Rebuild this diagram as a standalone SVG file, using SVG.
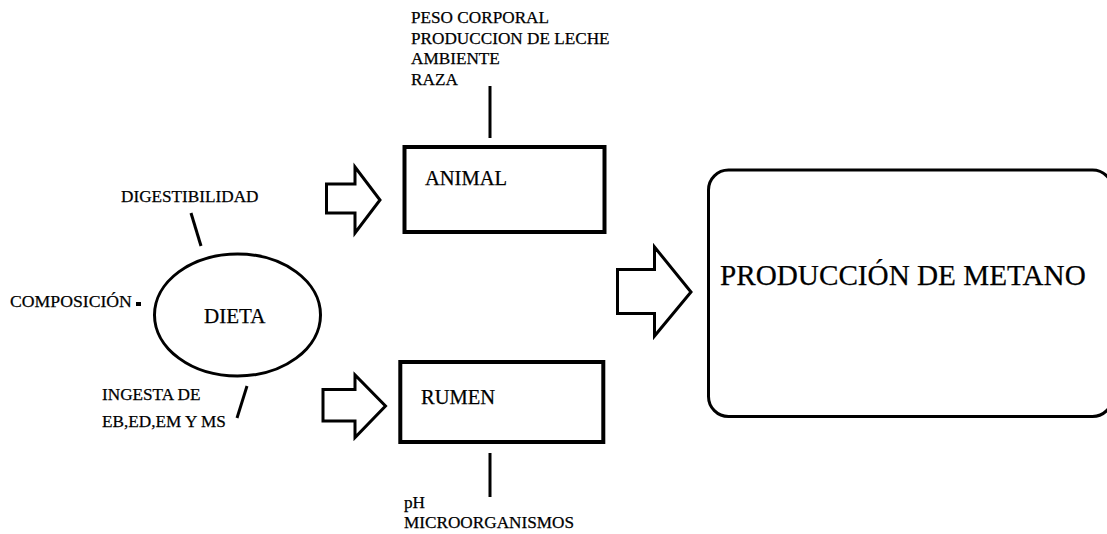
<svg xmlns="http://www.w3.org/2000/svg" width="1107" height="534" viewBox="0 0 1107 534">
<style>
text{font-family:"Liberation Serif","Times New Roman","DejaVu Serif",serif;fill:#000;stroke:#000;stroke-width:0.25}
.s{font-size:17.2px}
.m{font-size:20.5px}
.b{fill:#fff;stroke:#000;stroke-width:4}
.a{fill:#fff;stroke:#000;stroke-width:3;stroke-linejoin:miter}
.l{stroke:#000;stroke-width:3;fill:none}
</style>
<rect width="1107" height="534" fill="#fff"/>
<g id="connectors">
<line class="l" x1="490" y1="86" x2="490" y2="138"/>
<line class="l" x1="490" y1="453" x2="490" y2="497"/>
<line class="l" x1="191" y1="213" x2="201" y2="246"/>
<line class="l" x1="247" y1="386" x2="237" y2="418"/>
<rect x="136" y="302" width="5" height="4" fill="#000"/>
<polygon class="a" points="326.5,184 355,184 355,167 380,200 355,233 355,213 326.5,213"/>
<polygon class="a" points="323,389.5 355,389.5 355,375 385.5,406 355,437.5 355,421 323,421"/>
<polygon class="a" points="617.5,269.5 654.5,269.5 654.5,247 691,292 654.5,336 654.5,313.5 617.5,313.5"/>
</g>
<g id="animal-factors">
<text class="s" x="411" y="22.5">PESO CORPORAL</text>
<text class="s" x="411" y="43.5">PRODUCCION DE LECHE</text>
<text class="s" x="411" y="64">AMBIENTE</text>
<text class="s" x="411" y="85">RAZA</text>
</g>
<g id="animal">
<rect class="b" x="404.5" y="147" width="200" height="85"/>
<text class="m" x="425" y="184.5">ANIMAL</text>
</g>
<g id="rumen">
<rect class="b" x="400.3" y="362" width="203" height="80"/>
<text class="m" x="421" y="403.5">RUMEN</text>
</g>
<g id="rumen-factors">
<text class="s" x="404" y="508">pH</text>
<text class="s" x="404" y="528">MICROORGANISMOS</text>
</g>
<g id="dieta">
<ellipse cx="237.5" cy="315" rx="83" ry="61" fill="#fff" stroke="#000" stroke-width="3"/>
<text x="204" y="323" style="font-size:21px">DIETA</text>
</g>
<g id="digestibilidad"><text class="s" x="121" y="202">DIGESTIBILIDAD</text></g>
<g id="composicion"><text x="10" y="306.5" style="font-size:17.7px">COMPOSICIÓN</text></g>
<g id="ingesta">
<text class="s" x="102" y="400">INGESTA DE</text>
<text class="s" x="102" y="426.5">EB,ED,EM Y MS</text>
</g>
<g id="metano">
<rect x="708.5" y="170" width="404" height="246.5" rx="20" ry="20" fill="#fff" stroke="#000" stroke-width="3"/>
<text x="720" y="285" style="font-size:29.2px">PRODUCCIÓN DE METANO</text>
</g>
</svg>
